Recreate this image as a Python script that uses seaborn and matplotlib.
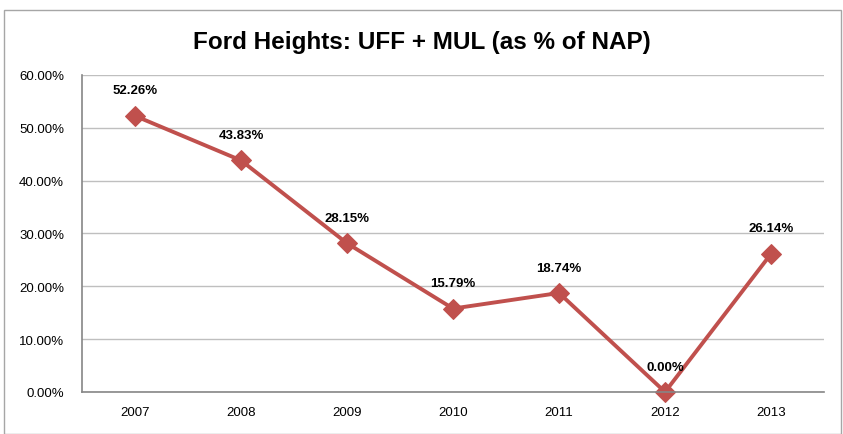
import matplotlib
matplotlib.use("Agg")
import matplotlib.pyplot as plt
import seaborn as sns
import pandas as pd
from matplotlib.ticker import FuncFormatter, FixedLocator, NullFormatter

# Data
years = ["2007", "2008", "2009", "2010", "2011", "2012", "2013"]
share = [52.26, 43.83, 28.15, 15.79, 18.74, 0.00, 26.14]

df = pd.DataFrame({"pos": range(len(years)), "year": years, "share": share})

sns.set_theme(style="white")
plt.rcParams["font.family"] = ["Liberation Sans", "DejaVu Sans"]
plt.rcParams["text.color"] = "black"

red = "#C0504D"
axis_gray = "#868686"

fig = plt.figure(figsize=(8.43, 4.35), dpi=100)
ax = fig.add_axes([0.0973, 0.0966, 0.8802, 0.7287])

sns.lineplot(data=df, x="pos", y="share", ax=ax, color=red, linewidth=2.8,
             marker="D", markersize=10, markeredgecolor=red, clip_on=False)

ax.set_xlim(-0.5, len(years) - 0.5)
ax.set_ylim(0, 60)
ax.set_yticks(range(0, 61, 10))
ax.yaxis.set_major_formatter(FuncFormatter(lambda v, _: f"{v:.2f}%"))
ax.yaxis.grid(True, color="#BFBFBF", linewidth=1)
ax.set_axisbelow(True)

# Excel-style category axis: ticks between categories, labels centred
ax.xaxis.set_major_locator(FixedLocator([i - 0.5 for i in range(len(years) + 1)]))
ax.xaxis.set_major_formatter(NullFormatter())
ax.xaxis.set_minor_locator(FixedLocator(list(range(len(years)))))
ax.set_xticklabels(years, minor=True)
ax.tick_params(axis="x", which="minor", length=0, labelsize=9.5, pad=10, labelcolor="black")
ax.tick_params(axis="x", which="major", direction="inout", length=8, color=axis_gray, width=1)
ax.tick_params(axis="y", direction="out", length=6, color=axis_gray, width=1,
               labelsize=9.5, pad=7, labelcolor="black")
ax.set_xlabel("")
ax.set_ylabel("")

for side in ["top", "right"]:
    ax.spines[side].set_visible(False)
for side in ["left", "bottom"]:
    ax.spines[side].set_color(axis_gray)
    ax.spines[side].set_linewidth(1.2)

for x, y in zip(df["pos"], df["share"]):
    ax.annotate(f"{y:.2f}%", (x, y), xytext=(0, 14), textcoords="offset points",
                ha="center", va="bottom", fontsize=9.5, fontweight="bold", color="black")

fig.text(0.5, 0.903, "Ford Heights: UFF + MUL (as % of NAP)", ha="center",
         va="center", fontsize=17.5, fontweight="bold", color="black")

# chart area border
fig.patches.append(plt.Rectangle((0.005, 0.0), 0.993, 0.975, transform=fig.transFigure,
                                 fill=False, edgecolor="#A6A6A6", linewidth=1))

fig.savefig("out.png", dpi=100, facecolor="white")
